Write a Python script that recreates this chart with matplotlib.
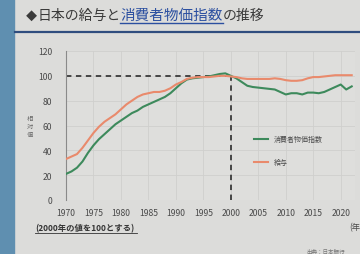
import matplotlib
matplotlib.use("Agg")
import matplotlib.pyplot as plt
from matplotlib.patches import Rectangle
from matplotlib.lines import Line2D

plt.rcParams['font.family'] = ['Noto Sans CJK JP', 'DejaVu Sans']

years = list(range(1970, 2023))
cpi = [21, 23, 26, 31, 38, 44, 49, 53, 57, 61,
       64, 67, 70, 72, 75, 77, 79, 81, 83, 86,
       90, 94, 97, 98, 98.5, 99, 99.5, 100.5, 101.5, 102,
       100, 98, 95, 92, 91, 90.5, 90, 89.5, 89, 87,
       85, 86, 86, 85, 86.5, 86.5, 86, 87, 89, 91,
       93, 89, 91.5]
wage = [33, 35, 37, 42, 48, 54, 59, 63, 66, 69,
        73, 77, 80, 83, 85, 86, 87, 87, 88, 90,
        93, 95, 97.5, 98.5, 99, 99, 99, 99.5, 100, 100,
        99.5, 99, 98, 97.5, 97.5, 97.5, 97.5, 97.5, 98, 97.5,
        96.5, 96, 96, 96.5, 98, 99, 99, 99.5, 100, 100.5,
        100.5, 100.5, 100.5]
xticks = list(range(1970, 2021, 5))
yticks = [0, 20, 40, 60, 80, 100, 120]
base_year = 2000
base_value = 100

bg = "#dcdcda"
green = "#3d8a5c"
orange = "#e98a6c"
txt = "#4a4a4a"

fig = plt.figure(figsize=(3.6, 2.55), dpi=100)
fig.patch.set_facecolor(bg)

# left blue strip and title rule
fig.add_artist(Rectangle((0, 0), 14 / 360, 1, transform=fig.transFigure,
                         color="#5f8fb0", zorder=0))
fig.add_artist(Line2D([15 / 360, 1], [1 - 33 / 255] * 2, transform=fig.transFigure,
                      color="#2f4d7e", lw=1.6))

# title pieces chained one after another
renderer = fig.canvas.get_renderer()
title_parts = [("◆", "#3a3a3a", 8), ("日本の給与と", "#3a3a3a", 10),
               ("消費者物価指数", "#2b4fa0", 10.5), ("の推移", "#3a3a3a", 10)]
x = 26 / 360
ty = 1 - 16 / 255
for s, c, fs in title_parts:
    t = fig.text(x, ty, s, fontsize=fs, color=c, va="center", ha="left")
    bb = t.get_window_extent(renderer).transformed(fig.transFigure.inverted())
    if c == "#2b4fa0":
        fig.add_artist(Line2D([bb.x0, bb.x1], [1 - 24 / 255] * 2,
                              transform=fig.transFigure, color=c, lw=1))
    x = bb.x1

ax = fig.add_axes([66 / 360, 1 - 201 / 255, 289 / 360, 149 / 255])
ax.set_facecolor("#dededc")
ax.set_xlim(1970, 2022.6)
ax.set_ylim(0, 120)
ax.set_xticks(xticks)
ax.set_yticks(yticks)
ax.tick_params(length=0, labelsize=6.2, colors=txt)
ax.tick_params(axis="y", pad=10)
ax.tick_params(axis="x", pad=6)
for s in ["top", "right", "bottom"]:
    ax.spines[s].set_visible(False)
ax.spines["left"].set_color("#8a8a8a")
ax.grid(True, color="#cfcfcd", lw=0.6)

ax.plot(years, cpi, color=green, lw=1.5, label="消費者物価指数", zorder=3)
ax.plot(years, wage, color=orange, lw=1.5, label="給与", zorder=3)
ax.plot([1970, base_year], [base_value, base_value], color="#3a3a3a", lw=1.3,
        ls=(0, (3, 2.5)), zorder=2)
ax.plot([base_year, base_year], [0, base_value], color="#3a3a3a", lw=1.3,
        ls=(0, (3, 2.5)), zorder=2)

ax.legend(loc="center left", bbox_to_anchor=(0.63, 0.33), frameon=False,
          fontsize=5, handlelength=2, labelspacing=2.2, labelcolor=txt)

fig.text(30 / 360, 1 - 127 / 255, "相\n対\n値", fontsize=4.5, color="#666666",
         ha="center", va="center", linespacing=1.0)
fig.text(35 / 360, 1 - 229 / 255, "(2000年の値を100とする)", fontsize=6, color="#333333",
         ha="left", va="center", fontweight="bold")
fig.add_artist(Line2D([35 / 360, 137 / 360], [1 - 234 / 255] * 2,
                      transform=fig.transFigure, color="#333333", lw=0.6))
fig.text(349 / 360, 1 - 228 / 255, "(年", fontsize=6, color=txt, ha="left", va="center")
fig.text(306 / 360, 1 - 252 / 255, "出典：日本銀行", fontsize=4, color="#777777",
         ha="left", va="center")

fig.savefig("out.png", dpi=100, facecolor=fig.get_facecolor())
